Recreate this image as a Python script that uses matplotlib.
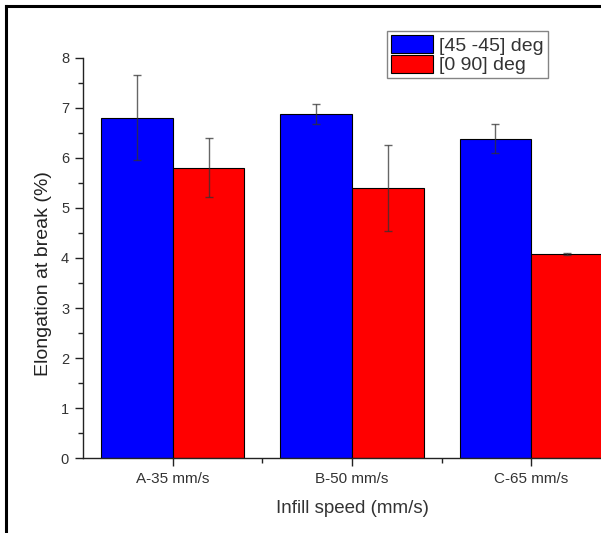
import matplotlib
matplotlib.use('Agg')
import matplotlib.pyplot as plt
import numpy as np
from matplotlib.ticker import MultipleLocator, FixedLocator
from matplotlib.lines import Line2D

plt.rcParams['font.family'] = ['Liberation Sans', 'DejaVu Sans']

# --- Data ---
categories = ['A-35 mm/s', 'B-50 mm/s', 'C-65 mm/s']
series_names = ['[45 -45] deg', '[0 90] deg']
blue_vals = [6.80, 6.88, 6.38]
blue_err = [0.85, 0.20, 0.29]
red_vals = [5.80, 5.39, 4.08]
red_err = [0.59, 0.86, 0.02]

# --- Plot ---
fig = plt.figure(figsize=(6.01, 5.33), dpi=100)
ax = fig.add_axes([0.1381, 0.1407, 0.895, 0.7505])

x = np.arange(len(categories))
w = 0.4
err_kw = dict(ecolor='#333333', elinewidth=1.0, capsize=3, capthick=1.0, alpha=0.75)
ax.bar(x - w/2, blue_vals, w, yerr=blue_err, color='#0000ff', edgecolor='black',
       linewidth=0.8, error_kw=err_kw, label=series_names[0])
ax.bar(x + w/2, red_vals, w, yerr=red_err, color='#ff0000', edgecolor='black',
       linewidth=0.8, error_kw=err_kw, label=series_names[1])

ax.set_xlim(-0.5, 2.5)
ax.set_ylim(0, 8)
ax.set_xticks(x)
ax.set_xticklabels(categories)
ax.xaxis.set_minor_locator(FixedLocator([0.5, 1.5]))
ax.yaxis.set_major_locator(MultipleLocator(1))
ax.yaxis.set_minor_locator(MultipleLocator(0.5))

for s in ['top', 'right']:
    ax.spines[s].set_visible(False)
for s in ['left', 'bottom']:
    ax.spines[s].set_linewidth(1.0)
    ax.spines[s].set_color('#222222')

ax.tick_params(which='major', direction='out', length=6, width=1, colors='#222222',
               labelcolor='#333333')
ax.tick_params(axis='x', which='major', labelsize=11, pad=4)
ax.tick_params(axis='y', which='major', labelsize=10.5, pad=4)
ax.tick_params(which='minor', direction='out', length=3.5, width=1, colors='#222222')

ax.set_ylabel('Elongation at break (%)', fontsize=14, color='#222222')
ax.yaxis.set_label_coords(-0.058, 0.46)
ax.set_xlabel('Infill speed (mm/s)', fontsize=13.5, color='#333333', labelpad=10)

leg = ax.legend(loc='upper left', bbox_to_anchor=(0.565, 1.0675), fontsize=14,
                frameon=True, fancybox=False, handlelength=2.15, handleheight=1.05,
                labelspacing=0.0, borderpad=0.2, handletextpad=0.35,
                borderaxespad=0)
leg.get_frame().set_edgecolor('#666666')
leg.get_frame().set_linewidth(1.0)
for t in leg.get_texts():
    t.set_color('#333333')

# outer border (cropped frame)
fig.add_artist(Line2D([6/601, 6/601], [0, 1 - 6/533], transform=fig.transFigure,
                      color='black', linewidth=2.2))
fig.add_artist(Line2D([6/601, 1], [1 - 6/533, 1 - 6/533], transform=fig.transFigure,
                      color='black', linewidth=2.2))

fig.savefig('out.png', dpi=100)
